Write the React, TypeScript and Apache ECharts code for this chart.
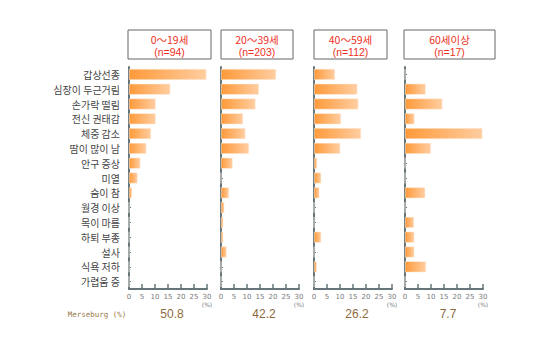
import React, { useEffect, useRef } from "react";
import * as echarts from "echarts";

const categories = [
  "갑상선종",
  "심장이 두근거림",
  "손가락 떨림",
  "전신 권태감",
  "체중 감소",
  "땀이 많이 남",
  "안구 증상",
  "미열",
  "숨이 참",
  "월경 이상",
  "목이 마름",
  "하퇴 부종",
  "설사",
  "식욕 저하",
  "가렵움 증",
];

const groupTitles = ["0～19세", "20～39세", "40～59세", "60세이상"];
const groupCounts = ["(n=94)", "(n=203)", "(n=112)", "(n=17)"];

const age0to19 = [29.8, 15.9, 10.3, 10.3, 8.5, 6.7, 4.4, 3.3, 1.2, 0, 0, 0, 0, 0, 0];
const age20to39 = [21.2, 14.6, 13.3, 8.5, 9.4, 10.8, 4.5, 0, 3.1, 1.3, 0.9, 0.9, 2.2, 0, 0];
const age40to59 = [8.1, 16.7, 17.1, 10.4, 18.1, 10.1, 1.2, 2.8, 2.1, 0, 0, 2.8, 0, 1.1, 0];
const age60plus = [0, 8.0, 14.4, 3.7, 29.8, 10.0, 0, 0, 7.8, 0, 3.5, 3.6, 3.6, 8.1, 0];

const merseburgLabel = "Merseburg (%)";
const merseburg = ["50.8", "42.2", "26.2", "7.7"];

const xTicks = [0, 5, 10, 15, 20, 25, 30];

export default function App() {
  const ref = useRef<HTMLDivElement>(null);

  useEffect(() => {
    document.body.style.margin = "0";
    const chart = echarts.init(ref.current!, null, { renderer: "svg" });
    const seriesData = [age0to19, age20to39, age40to59, age60plus];
    const gridLefts = [129, 221, 314, 405];
    const gridWidth = 78;
    const gridTop = 67;
    const gridHeight = 222;
    const boxes = [
      { x: 128, w: 83 },
      { x: 221, w: 72 },
      { x: 314, w: 73 },
      { x: 404, w: 91 },
    ];
    const axisColor = "#66757a";

    const grids = gridLefts.map((l) => ({
      left: l,
      top: gridTop,
      width: gridWidth,
      height: gridHeight,
    }));

    const xAxes = gridLefts.map((_, i) => ({
      type: "value",
      gridIndex: i,
      min: xTicks[0],
      max: xTicks[xTicks.length - 1],
      interval: 5,
      splitLine: { show: false },
      axisLine: { show: true, lineStyle: { color: axisColor, width: 2 } },
      axisTick: { show: true, inside: true, length: 5, lineStyle: { color: axisColor, width: 1.5 } },
      axisLabel: {
        fontSize: 7,
        color: "#7a7a7a",
        margin: 4,
        fontFamily: "DejaVu Sans",
        formatter: (v: number) => (v === 30 ? "30\n{u|(%)}" : String(v)),
        rich: { u: { fontSize: 6, color: "#7a7a7a", lineHeight: 9, fontFamily: "DejaVu Sans" } },
      },
    }));

    const yAxes = gridLefts.map((_, i) => ({
      type: "category",
      gridIndex: i,
      data: categories,
      inverse: true,
      axisLine: { show: true, lineStyle: { color: axisColor, width: 2 } },
      axisTick: { show: true, inside: true, length: 2, alignWithLabel: true, lineStyle: { color: axisColor } },
      axisLabel: {
        show: i === 0,
        fontSize: 10,
        color: "#444",
        margin: 9,
        fontFamily: "Noto Sans CJK KR",
      },
    }));

    const barColor = new echarts.graphic.LinearGradient(0, 0, 1, 0, [
      { offset: 0, color: "#ff9a3a" },
      { offset: 1, color: "#ffcda0" },
    ]);

    const series = seriesData.map((d, i) => ({
      type: "bar",
      xAxisIndex: i,
      yAxisIndex: i,
      data: d,
      barWidth: 11,
      itemStyle: { color: barColor, borderColor: "#fff3e8", borderWidth: 0.5 },
      z: 1,
    }));

    const graphics: any[] = [];
    boxes.forEach((b, i) => {
      graphics.push({
        type: "rect",
        shape: { x: b.x, y: 30, width: b.w, height: 29 },
        style: { fill: "#fff", stroke: "#666", lineWidth: 1 },
      });
      graphics.push({
        type: "text",
        x: b.x + b.w / 2,
        y: 39,
        style: {
          text: groupTitles[i],
          fill: "#ee3124",
          fontSize: 10.5,
          fontFamily: "Noto Sans CJK KR",
          align: "center",
          verticalAlign: "middle",
        },
      });
      graphics.push({
        type: "text",
        x: b.x + b.w / 2,
        y: 51.5,
        style: {
          text: groupCounts[i],
          fill: "#ee3124",
          fontSize: 10.5,
          fontFamily: "Liberation Sans",
          align: "center",
          verticalAlign: "middle",
        },
      });
      graphics.push({
        type: "text",
        x: gridLefts[i] + gridWidth / 2 + 4,
        y: 314,
        style: {
          text: merseburg[i],
          fill: "#8d6a3c",
          fontSize: 12,
          fontFamily: "Liberation Sans",
          align: "center",
          verticalAlign: "middle",
        },
      });
    });
    graphics.push({
      type: "text",
      x: 97,
      y: 314,
      style: {
        text: merseburgLabel,
        fill: "#9a7a4a",
        fontSize: 7.5,
        fontFamily: "DejaVu Sans Mono",
        align: "center",
        verticalAlign: "middle",
      },
    });

    chart.setOption({
      animation: false,
      backgroundColor: "#fff",
      grid: grids,
      xAxis: xAxes,
      yAxis: yAxes,
      series,
      graphic: graphics,
    } as any);

    return () => chart.dispose();
  }, []);

  return <div ref={ref} style={{ width: 550, height: 350 }} />;
}
